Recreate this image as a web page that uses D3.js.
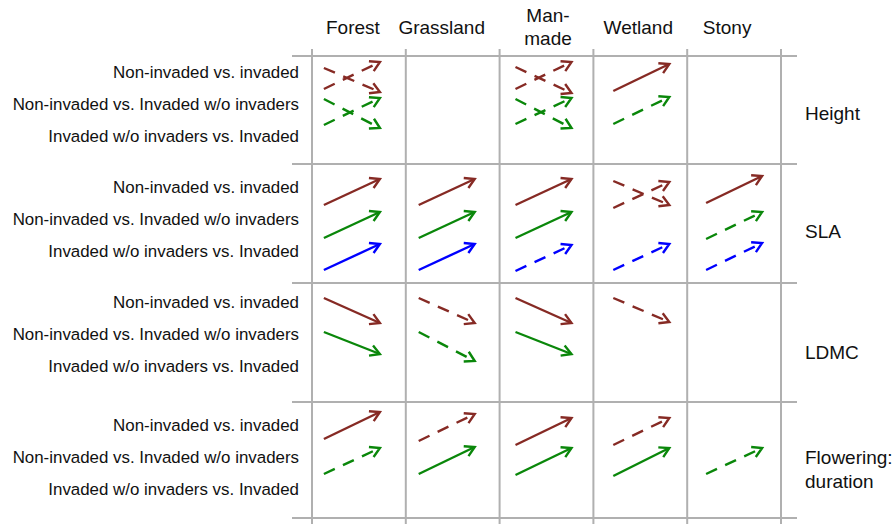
<!DOCTYPE html>
<html>
<head>
<meta charset="utf-8">
<script src="https://cdn.jsdelivr.net/npm/d3@7"></script>
<style>
  body { margin: 0; background: #fff; }
  text { font-family: "Liberation Sans", Arial, sans-serif; fill: #111; }
</style>
</head>
<body>
<div id="chart"></div>
<script>
// habitats (columns), traits (rows), comparisons (arrow slots)
const habitats = ["Forest", "Grassland", "Man-made", "Wetland", "Stony"];
const habitatLabels = [["Forest"], ["Grassland"], ["Man-", "made"], ["Wetland"], ["Stony"]];
const traits = ["Height", "SLA", "LDMC", "Flowering: duration"];
const traitLabels = [["Height"], ["SLA"], ["LDMC"], ["Flowering:", "duration"]];
const comparisons = ["Non-invaded vs. invaded",
                     "Non-invaded vs. Invaded w/o invaders",
                     "Invaded w/o invaders vs. Invaded"];

// arrows: habitat, comparison index, trait level before -> after, significant or not
const heightArrows = [
  {h: "Forest",   c: 0, from:  1.4, to: -1.0, sig: false},
  {h: "Forest",   c: 0, from: -0.7, to:  2.0, sig: false},
  {h: "Forest",   c: 1, from:  1.6, to: -1.3, sig: false},
  {h: "Forest",   c: 1, from: -1.0, to:  1.7, sig: false},
  {h: "Man-made", c: 0, from:  1.5, to: -1.1, sig: false},
  {h: "Man-made", c: 0, from: -0.7, to:  2.0, sig: false},
  {h: "Man-made", c: 1, from:  1.6, to: -1.3, sig: false},
  {h: "Man-made", c: 1, from: -0.9, to:  1.7, sig: false},
  {h: "Wetland",  c: 0, from: -0.9, to:  1.8, sig: true},
  {h: "Wetland",  c: 1, from: -0.9, to:  1.8, sig: false}
];
const slaArrows = [
  {h: "Forest",    c: 0, from: -1.5, to: 1.1, sig: true},
  {h: "Forest",    c: 1, from: -1.5, to: 1.1, sig: true},
  {h: "Forest",    c: 2, from: -1.4, to: 1.2, sig: true},
  {h: "Grassland", c: 0, from: -1.5, to: 1.1, sig: true},
  {h: "Grassland", c: 1, from: -1.5, to: 1.1, sig: true},
  {h: "Grassland", c: 2, from: -1.4, to: 1.2, sig: true},
  {h: "Man-made",  c: 0, from: -1.5, to: 1.1, sig: true},
  {h: "Man-made",  c: 1, from: -1.5, to: 1.1, sig: true},
  {h: "Man-made",  c: 2, from: -1.5, to: 1.1, sig: false},
  {h: "Wetland",   c: 0, from:  0.9, to: -1.5, sig: false},
  {h: "Wetland",   c: 0, from: -1.8, to: 0.8, sig: false},
  {h: "Wetland",   c: 2, from: -1.4, to: 1.2, sig: false},
  {h: "Stony",     c: 0, from: -1.3, to: 1.4, sig: true},
  {h: "Stony",     c: 1, from: -1.6, to: 1.1, sig: false},
  {h: "Stony",     c: 2, from: -1.4, to: 1.3, sig: false}
];
const ldmcArrows = [
  {h: "Forest",    c: 0, from: 1.1, to: -1.4, sig: true},
  {h: "Forest",    c: 1, from: 1.0, to: -1.2, sig: true},
  {h: "Grassland", c: 0, from: 1.1, to: -1.4, sig: false},
  {h: "Grassland", c: 1, from: 1.0, to: -1.9, sig: false},
  {h: "Man-made",  c: 0, from: 1.1, to: -1.4, sig: true},
  {h: "Man-made",  c: 1, from: 1.0, to: -1.2, sig: true},
  {h: "Wetland",   c: 0, from: 1.1, to: -1.3, sig: false}
];
const floweringArrows = [
  {h: "Forest",    c: 0, from: -1.1, to: 1.6, sig: true},
  {h: "Forest",    c: 1, from: -1.3, to: 1.3, sig: false},
  {h: "Grassland", c: 0, from: -1.3, to: 1.4, sig: false},
  {h: "Grassland", c: 1, from: -1.3, to: 1.4, sig: true},
  {h: "Man-made",  c: 0, from: -1.7, to: 1.0, sig: true},
  {h: "Man-made",  c: 1, from: -1.4, to: 1.3, sig: true},
  {h: "Wetland",   c: 0, from: -1.7, to: 1.0, sig: false},
  {h: "Wetland",   c: 1, from: -1.5, to: 1.3, sig: true},
  {h: "Stony",     c: 1, from: -1.3, to: 1.3, sig: false}
];
const arrowsByTrait = [heightArrows, slaArrows, ldmcArrows, floweringArrows];

// layout
const width = 895, height = 524;
const rowEdges = [56, 164, 283, 402, 518];
const arrowNudge = [-7, -6, -3, 1, 0];        // small horizontal shifts of arrows per column
const headerNudge = [-6, -11, 1.5, -2, -7];    // header text shifts per column
const sideLabelShift = [-6.5, -4.5, -8.5, -3]; // left labels, relative to row middle
const traitLabelShift = [3, 7.5, 9.5, 9];      // right labels, relative to row middle

const svg = d3.select("#chart")
  .append("svg")
    .attr("width", width)
    .attr("height", height);

const x = d3.scaleBand().domain(habitats).range([312, 781]);
const rowTop = d3.scaleOrdinal().domain(traits).range(rowEdges.slice(0, 4));
const rowBottom = d3.scaleOrdinal().domain(traits).range(rowEdges.slice(1));
const rowMid = t => (rowTop(t) + rowBottom(t)) / 2;
const slot = d3.scaleLinear().domain([0, 2]).range([26, 92]);   // slot centre below row top
const level = d3.scaleLinear().domain([-1, 1]).range([10, -10]); // trait change -> px
const color = d3.scaleOrdinal().domain([0, 1, 2]).range(["#862a24", "#0a870a", "#0000ff"]);

// grid
const grid = svg.append("g").attr("stroke", "#b0b0b0").attr("stroke-width", 2);
grid.selectAll(".vline")
  .data(habitats.map(h => x(h)).concat([x.range()[1]]))
  .join("line")
    .attr("x1", d => d).attr("x2", d => d)
    .attr("y1", 49).attr("y2", height);
grid.selectAll(".hline")
  .data(rowEdges)
  .join("line")
    .attr("x1", 292).attr("x2", 797)
    .attr("y1", d => d).attr("y2", d => d);

// column headers
habitats.forEach((h, i) => {
  const lines = habitatLabels[i];
  const cx = x(h) + x.bandwidth() / 2 + headerNudge[i];
  lines.forEach((s, j) => {
    svg.append("text")
      .attr("x", cx)
      .attr("y", lines.length === 1 ? 34 : 22 + j * 23)
      .attr("text-anchor", "middle")
      .attr("font-size", 19)
      .text(s);
  });
});

// row labels (right) and comparison labels (left)
traits.forEach((t, i) => {
  const lines = traitLabels[i];
  const m = rowMid(t);
  lines.forEach((s, j) => {
    svg.append("text")
      .attr("x", 805)
      .attr("y", m + traitLabelShift[i] + (j - (lines.length - 1) / 2) * 24)
      .attr("dy", "0.36em")
      .attr("font-size", 19)
      .text(s);
  });
  comparisons.forEach((c, k) => {
    svg.append("text")
      .attr("x", 299)
      .attr("y", m + sideLabelShift[i] + (k - 1) * 32)
      .attr("dy", "0.36em")
      .attr("text-anchor", "end")
      .attr("font-size", 16.9)
      .text(c);
  });
});

// arrows
const half = 28, headLen = 11, headAng = Math.PI / 6;
traits.forEach((t, i) => {
  const g = svg.append("g");
  const pts = arrowsByTrait[i].map(d => {
    const hi = habitats.indexOf(d.h);
    const cx = x(d.h) + x.bandwidth() / 2 + arrowNudge[hi];
    const cy = rowTop(t) + slot(d.c);
    return {x0: cx - half, y0: cy + level(d.from), x1: cx + half, y1: cy + level(d.to), d: d};
  });
  g.selectAll(".shaft")
    .data(pts)
    .join("line")
      .attr("x1", p => p.x0).attr("y1", p => p.y0)
      .attr("x2", p => p.x1).attr("y2", p => p.y1)
      .attr("stroke", p => color(p.d.c))
      .attr("stroke-width", 2.4)
      .attr("stroke-dasharray", p => p.d.sig ? null : "12,9");
  g.selectAll(".head")
    .data(pts)
    .join("path")
      .attr("fill", "none")
      .attr("stroke", p => color(p.d.c))
      .attr("stroke-width", 2.4)
      .attr("stroke-linejoin", "miter")
      .attr("d", p => {
        const a = Math.atan2(p.y1 - p.y0, p.x1 - p.x0);
        const w1 = [p.x1 - headLen * Math.cos(a - headAng), p.y1 - headLen * Math.sin(a - headAng)];
        const w2 = [p.x1 - headLen * Math.cos(a + headAng), p.y1 - headLen * Math.sin(a + headAng)];
        return `M${w1[0]},${w1[1]}L${p.x1},${p.y1}L${w2[0]},${w2[1]}`;
      });
});
</script>
</body>
</html>
